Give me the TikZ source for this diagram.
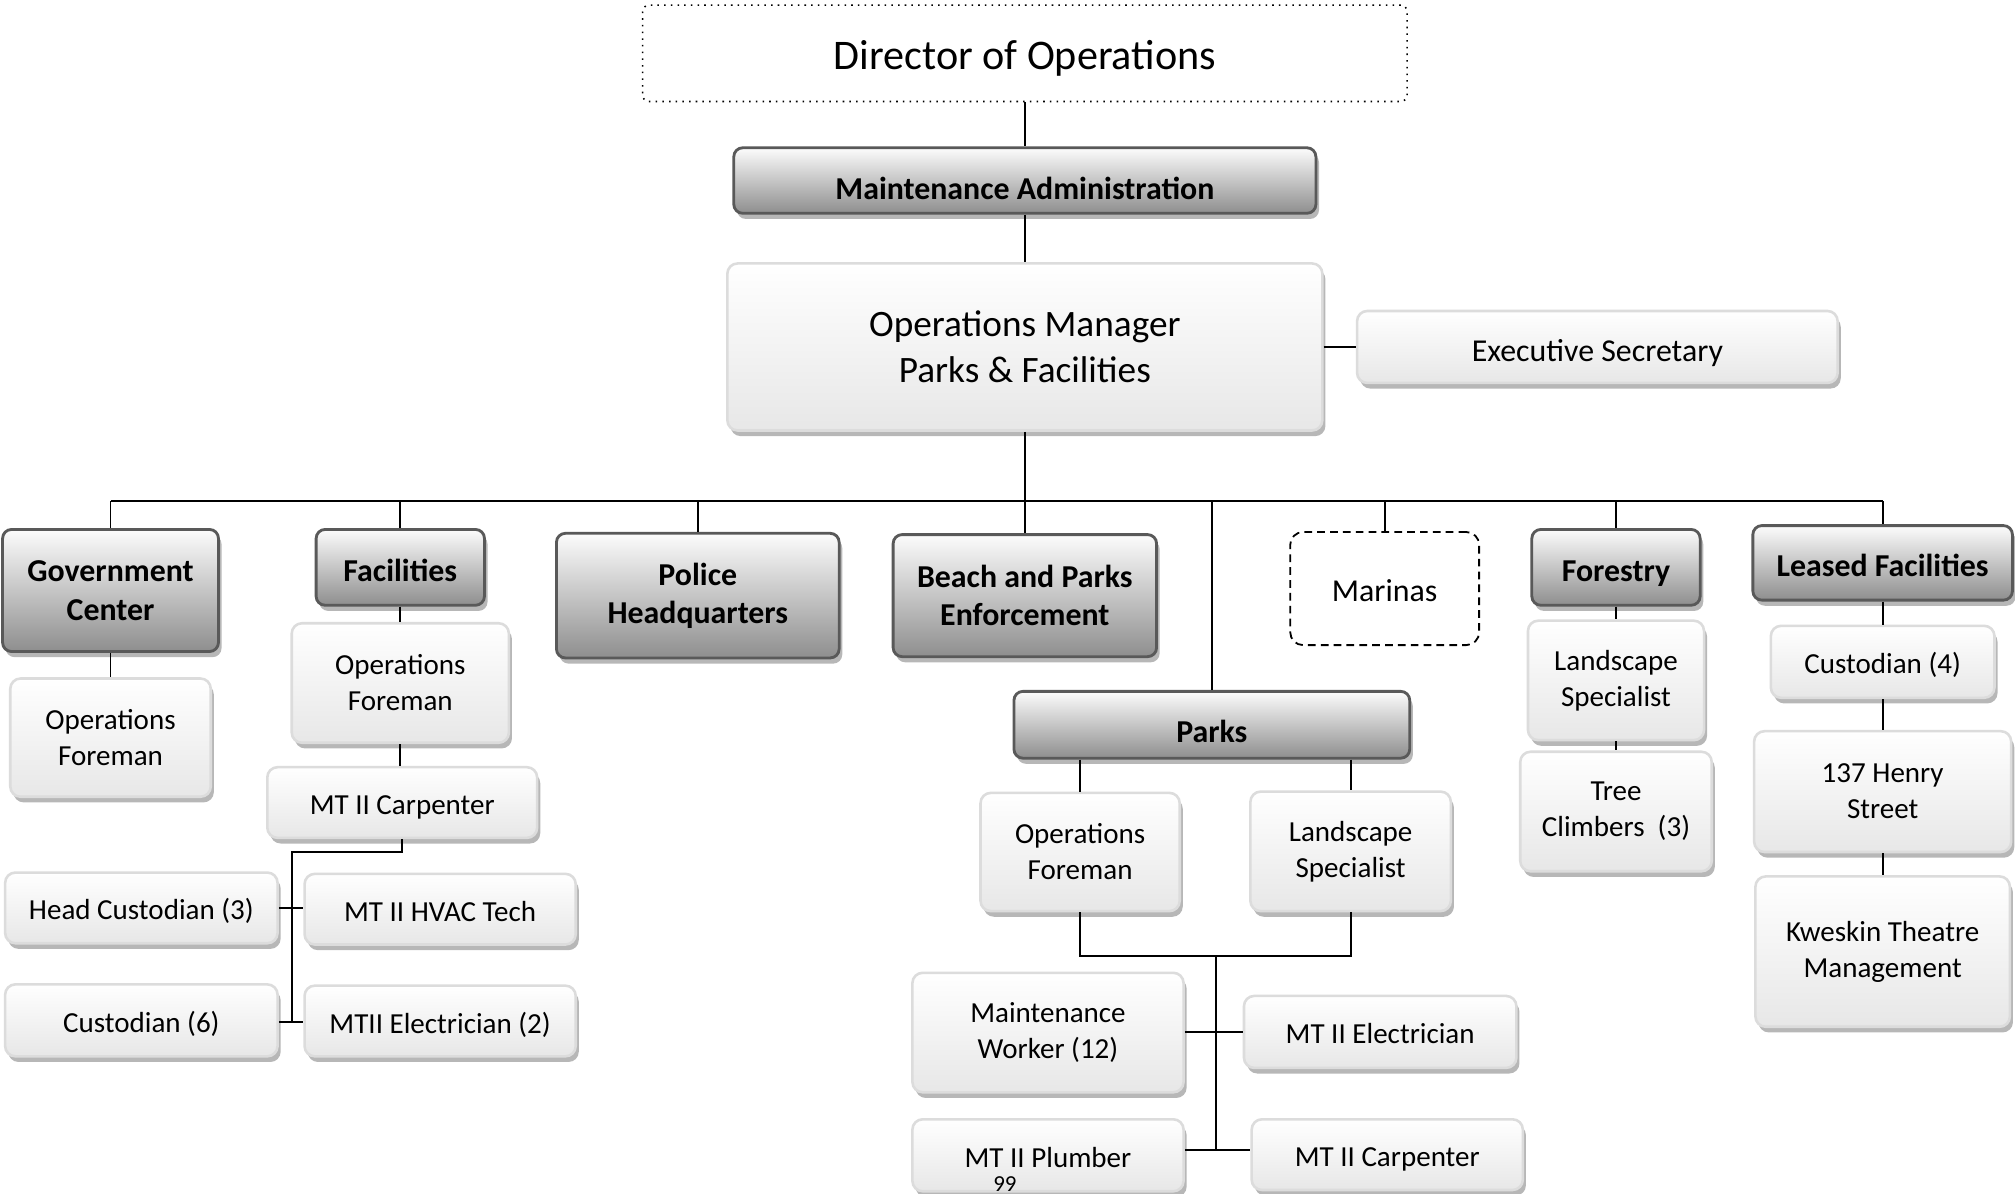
\documentclass[tikz,border=0pt]{standalone}
\usepackage{fontspec}
\setmainfont{Carlito}
\usetikzlibrary{shadows}

\definecolor{darkedge}{HTML}{595959}
\definecolor{darktop}{HTML}{FCFCFC}
\definecolor{darkbot}{HTML}{8E8E8E}
\definecolor{lightedge}{HTML}{DCDCDC}
\definecolor{lighttop}{HTML}{FFFFFF}
\definecolor{lightbot}{HTML}{E7E7E7}
\definecolor{shadowgray}{HTML}{A0A0A0}

\tikzset{
  boxbase/.style={rectangle, inner sep=0pt, align=center, text=black,
    drop shadow={shadow xshift=1.2pt, shadow yshift=-2.2pt, fill=shadowgray, opacity=0.75}},
  darkbox/.style={boxbase, rounded corners=3.5pt, draw=darkedge, line width=1.1pt,
    top color=darktop, bottom color=darkbot, font=\fontsize{12.4}{15}\selectfont\bfseries},
  lightbox/.style={boxbase, rounded corners=4pt, draw=lightedge, line width=1pt,
    top color=lighttop, bottom color=lightbot, font=\fontsize{11.3}{14}\selectfont},
  bigbox/.style={lightbox, font=\fontsize{14.5}{18}\selectfont},
  secbox/.style={lightbox, font=\fontsize{12.4}{15}\selectfont},
  dirbox/.style={rectangle, inner sep=0pt, rounded corners=2.5pt, draw=black,
    line width=0.6pt, dotted, fill=white, font=\fontsize{16.4}{20}\selectfont},
  openbox/.style={rectangle, inner sep=0pt, rounded corners=5pt, draw=black,
    line width=0.7pt, dash pattern=on 3pt off 2pt, fill=white,
    font=\fontsize{12.4}{15}\selectfont},
  % single-line labels sit a little below the middle of their box:
  % the baseline lies half the given height below the centre
  lowline/.style={text height=#1, text depth=0pt},
  darkline/.style={darkbox, lowline=#1}, darkline/.default=11pt,
  lightline/.style={lightbox, lowline=9.4pt},
  secline/.style={secbox, lowline=11.5pt},
  dirline/.style={dirbox, lowline=12.6pt},
  openline/.style={openbox, lowline=10pt},
  link/.style={draw=black, line width=0.75pt},
  pagenum/.style={inner sep=0pt, font=\fontsize{8.9}{10}\selectfont}
}

% place a node by its corner coordinates: name, style, x1, y1, x2, y2, text
\newcommand\placebox[7]{%
  \node[#2, minimum width={(#5-#3)*0.5pt}, minimum height={(#6-#4)*0.5pt}]
    (#1) at ({(#3+#5)/2},{(#4+#6)/2}) {#7};}

\begin{document}
\begin{tikzpicture}[x=0.5pt, y=-0.5pt]
\useasboundingbox[fill=white] (0,0) rectangle (1568,929);

\coordinate (bus) at (797.5,390);
\coordinate (busL) at (86,390);
\coordinate (busR) at (1465,390);

% ---- top of the chart
\placebox{dir}{dirline}{500}{4}{1095}{79}{Director of Operations}
\placebox{admin}{darkline=15pt}{571}{115}{1024}{166}{Maintenance Administration}
\placebox{mgr}{bigbox}{566}{205}{1029}{335}{Operations Manager\\Parks \& Facilities}
\placebox{sec}{secline}{1056}{242}{1430}{298}{Executive Secretary}

% ---- departments
\placebox{gov}{darkbox}{2}{412}{170}{507}{Government\\Center}
\placebox{fac}{darkline}{246}{412}{377}{471}{Facilities}
\placebox{police}{darkbox}{433}{415}{653}{512}{Police\\Headquarters}
\placebox{beach}{darkbox}{695}{416}{900}{511}{Beach and Parks\\Enforcement}
\placebox{marinas}{openline}{1004}{414}{1151}{502}{Marinas}
\placebox{forest}{darkline}{1192}{412}{1323}{471}{Forestry}
\placebox{leased}{darkline}{1364}{409}{1566}{467}{Leased Facilities}
\placebox{parks}{darkline=14pt}{789}{538}{1097}{590}{Parks}

% ---- Government Center
\placebox{govfore}{lightbox}{8}{528}{164}{620}{Operations\\Foreman}

% ---- Facilities
\placebox{facfore}{lightbox}{227}{485}{396}{578}{Operations\\Foreman}
\placebox{faccarp}{lightline}{208}{597}{418}{652}{MT II Carpenter}
\placebox{headcust}{lightline}{4}{679}{216}{734}{Head Custodian (3)}
\placebox{hvac}{lightline}{237}{680}{448}{735}{MT II HVAC Tech}
\placebox{cust}{lightline}{4}{766}{216}{822}{Custodian (6)}
\placebox{facelec}{lightline}{237}{767}{448}{822}{MTII Electrician (2)}

% ---- Parks
\placebox{parkfore}{lightbox}{763}{617}{918}{709}{Operations\\Foreman}
\placebox{parkland}{lightbox}{973}{616}{1129}{709}{Landscape\\Specialist}
\placebox{mworker}{lightbox}{710}{757}{921}{850}{Maintenance\\Worker (12)}
\placebox{parkelec}{lightline}{968}{775}{1180}{831}{MT II Electrician}
\placebox{plumber}{lightline}{710}{871}{921}{927}{MT II Plumber}
\placebox{parkcarp}{lightline}{974}{871}{1185}{926}{MT II Carpenter}

% ---- Forestry
\placebox{forland}{lightbox}{1189}{483}{1326}{576}{Landscape\\Specialist}
\placebox{climbers}{lightbox}{1183}{585}{1332}{678}{Tree\\Climbers~~(3)}

% ---- Leased Facilities
\placebox{lcust}{lightline}{1378}{487}{1552}{543}{Custodian (4)}
\placebox{henry}{lightbox}{1365}{569}{1565}{663}{137 Henry\\Street}
\placebox{kweskin}{lightbox}{1366}{682}{1564}{799}{Kweskin Theatre\\Management}

% ---- page number
\node[pagenum, anchor=base] (page) at (782,927) {99};

% ---- links
\draw[link] (dir.south) -- (dir.south |- admin.north);
\draw[link] (admin.south) -- (admin.south |- mgr.north);
\draw[link] (mgr.east |- sec.west) -- (sec.west);
\draw[link] (mgr.south) -- (bus);
\draw[link] (busL) -- (busR);
\draw[link] (busL) -- (gov.north);
\draw[link] (fac.north |- bus) -- (fac.north);
\draw[link] (police.north |- bus) -- (police.north);
\draw[link] (bus) -- (beach.north);
\draw[link] (parks.north |- bus) -- (parks.north);
\draw[link] (marinas.north |- bus) -- (marinas.north);
\draw[link] (forest.north |- bus) -- (forest.north);
\draw[link] (busR) -- (leased.north);

\draw[link] (gov.south) -- (gov.south |- govfore.north);

\draw[link] (fac.south) -- (fac.south |- facfore.north);
\draw[link] (facfore.south) -- (facfore.south |- faccarp.north);
\coordinate (facjoin) at (313,663);
\coordinate (factrunk) at (227,663);
\coordinate (facbot) at (227,795);
\draw[link] (faccarp.south -| facjoin) -- (facjoin) -- (factrunk) -- (facbot);
\draw[link] (headcust.east) -- (hvac.west |- headcust.east);
\draw[link] (cust.east |- facbot) -- (facelec.west |- facbot);

\coordinate (parkfork) at (946,744);
\coordinate (parkbot) at (946,895);
\draw[link] (parkfore.north |- parks.south) -- (parkfore.north);
\draw[link] (parkland.north |- parks.south) -- (parkland.north);
\draw[link] (parkfore.south) |- (parkfork) -| (parkland.south);
\draw[link] (parkfork) -- (parkbot);
\draw[link] (mworker.east |- parkelec.west) -- (parkelec.west);
\draw[link] (plumber.east |- parkbot) -- (parkcarp.west |- parkbot);

\draw[link] (forest.south) -- (forest.south |- forland.north);
\draw[link] (forland.south) -- (forland.south |- climbers.north);

\draw[link] (leased.south) -- (leased.south |- lcust.north);
\draw[link] (lcust.south) -- (lcust.south |- henry.north);
\draw[link] (henry.south) -- (henry.south |- kweskin.north);
\end{tikzpicture}
\end{document}
